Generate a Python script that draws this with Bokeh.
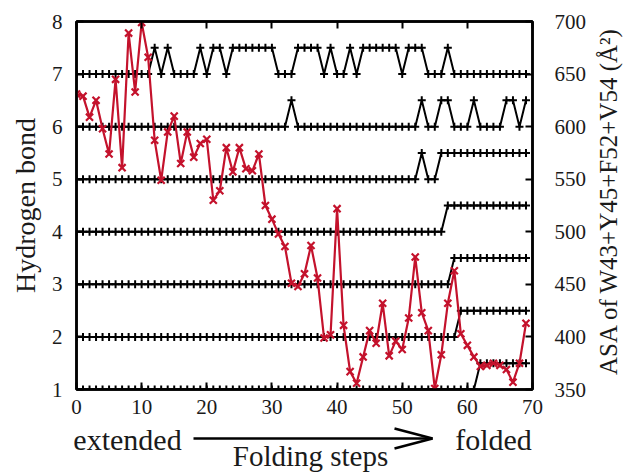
import math
from bokeh.plotting import figure
from bokeh.models import Range1d, LinearAxis, FixedTicker, CustomJSTickFormatter
from bokeh.layouts import column, row
from bokeh.core.properties import value
from bokeh.embed import file_html
from bokeh.resources import INLINE

# ---------------- data ----------------
steps = list(range(70))

# solvent accessible surface area (right axis, A^2)
asa = [631, 629, 609, 625, 598, 574, 645, 561, 689, 633,
       699, 666, 587, 549, 595, 610, 565, 595, 571, 584,
       588, 530, 539, 580, 557, 580, 560, 558, 574, 525,
       512, 498, 486, 451, 448, 460, 487, 456, 399, 402,
       522, 411, 367, 356, 381, 406, 394, 432, 382, 396,
       388, 418, 476, 423, 406, 351, 383, 432, 463, 403,
       392, 381, 372, 373, 375, 373, 369, 357, 375, 413]

# hydrogen bond presence (0 = absent, 1 = formed) for the 7 bonds
hb1 = [0]*62 + [1]*8
hb2 = [0]*59 + [1]*11
hb3 = [0]*58 + [1]*12
hb4 = [0]*57 + [1]*13
hb5 = [0]*53 + [1, 0, 0] + [1]*14
hb6 = ([0]*33 + [1] + [0]*19 + [1, 0, 0, 1, 1, 0, 0, 0, 1, 0, 0, 0, 0, 1, 1, 0, 1])
hb7 = ([0]*12 + [1, 0, 1, 0, 0, 0, 0, 1, 0, 1, 1, 0] + [1]*7 + [0, 0, 0]
       + [1, 1, 1, 1, 0, 1, 0, 0, 1, 0] + [1]*6 + [0, 1, 1, 1, 0, 0, 0, 1] + [0]*12)
bonds = [hb1, hb2, hb3, hb4, hb5, hb6, hb7]
bond_base = [1, 2, 3, 4, 5, 6, 7]

x_ticks = [0, 10, 20, 30, 40, 50, 60, 70]
y_ticks = [1, 2, 3, 4, 5, 6, 7, 8]
asa_ticks = [350, 400, 450, 500, 550, 600, 650, 700]

left_title = "Hydrogen bond"
right_title = "ASA of W43+Y45+F52+V54 (Å²)"
bottom_words = ["extended", "folded", "Folding steps"]

FONT = "Liberation Serif"
TXT = "#1a1a1a"
RED = "#c4122c"

# ---------------- main figure ----------------
W, H = 628, 472
RW = 34          # right strip for the rotated ASA title
BH = 48          # bottom strip for "extended -> folded / Folding steps"
MW, MH = W - RW, H - BH
ML, MT = 76, 21
MR = MW - 532
MB = MH - 389

p = figure(width=MW, height=MH, x_range=Range1d(0, 70), y_range=Range1d(1, 8),
           output_backend="svg", toolbar_location=None,
           x_axis_location=None, y_axis_location=None,
           min_border_left=ML, min_border_right=MR,
           min_border_top=MT, min_border_bottom=MB)
p.extra_y_ranges = {"asa": Range1d(350, 700)}
p.grid.visible = False
p.outline_line_color = "black"
p.outline_line_width = 2.5

bottom = LinearAxis(ticker=FixedTicker(ticks=x_ticks))
top = LinearAxis(ticker=FixedTicker(ticks=x_ticks),
                 formatter=CustomJSTickFormatter(code="return ''"))
left = LinearAxis(ticker=FixedTicker(ticks=y_ticks))
right = LinearAxis(y_range_name="asa", ticker=FixedTicker(ticks=asa_ticks))
p.add_layout(bottom, "below")
p.add_layout(top, "above")
p.add_layout(left, "left")
p.add_layout(right, "right")

for ax in [bottom, top, left, right]:
    ax.axis_line_width = 2.5
    ax.axis_line_color = "black"
    ax.major_tick_in = 7
    ax.major_tick_out = 0
    ax.major_tick_line_width = 2
    ax.minor_tick_line_color = None
    ax.major_label_text_font = FONT
    ax.major_label_text_font_size = "21px"
    ax.major_label_text_color = TXT
bottom.major_label_standoff = 10
left.major_label_standoff = 14
right.major_label_standoff = 22
top.major_label_standoff = 0
top.major_label_text_font_size = "1px"

left.axis_label = left_title
left.axis_label_text_font = FONT
left.axis_label_text_font_size = "28px"
left.axis_label_text_font_style = "normal"
left.axis_label_text_color = TXT
left.axis_label_standoff = 8

for base, states in zip(bond_base, bonds):
    ys = [base + 0.5 * s for s in states]
    p.line(steps, ys, line_color="black", line_width=2)
    p.scatter(steps, ys, marker="cross", size=8, line_color="black", line_width=2)

p.line(steps, asa, y_range_name="asa", line_color=RED, line_width=2.2)
p.scatter(steps, asa, y_range_name="asa", marker="x", size=10,
          line_color=RED, line_width=2.2)


# ---------------- text strips ----------------
def strip(w, h):
    f = figure(width=w, height=h, x_range=Range1d(0, w), y_range=Range1d(0, h),
               output_backend="svg", toolbar_location=None,
               x_axis_location=None, y_axis_location=None, min_border=0)
    f.grid.visible = False
    f.outline_line_color = None
    return f

rs = strip(RW, MH)
rs.text(x=[14], y=[MH - 207], text=[right_title], angle=math.pi / 2,
        text_font=value(FONT), text_font_size=value("25px"), text_color=TXT,
        text_align="center", text_baseline="middle")

bs = strip(W, BH)
top_y = MH  # page y of the strip's top edge
bs.text(x=[127, 493], y=[top_y + BH - 439] * 2, text=bottom_words[:2],
        text_font=value(FONT), text_font_size=value("30px"), text_color=TXT,
        text_align="center", text_baseline="middle")
bs.text(x=[310], y=[top_y + BH - 455], text=[bottom_words[2]],
        text_font=value(FONT), text_font_size=value("29px"), text_color=TXT,
        text_align="center", text_baseline="middle")
ay = top_y + BH - 438
bs.segment(x0=[193, 394, 394], y0=[ay, ay + 10, ay - 10],
           x1=[432, 432, 432], y1=[ay, ay, ay],
           line_color="black", line_width=2.5)

layout = column(row(p, rs, spacing=0), bs, spacing=0)
open("out.html", "w").write(file_html(layout, INLINE))
